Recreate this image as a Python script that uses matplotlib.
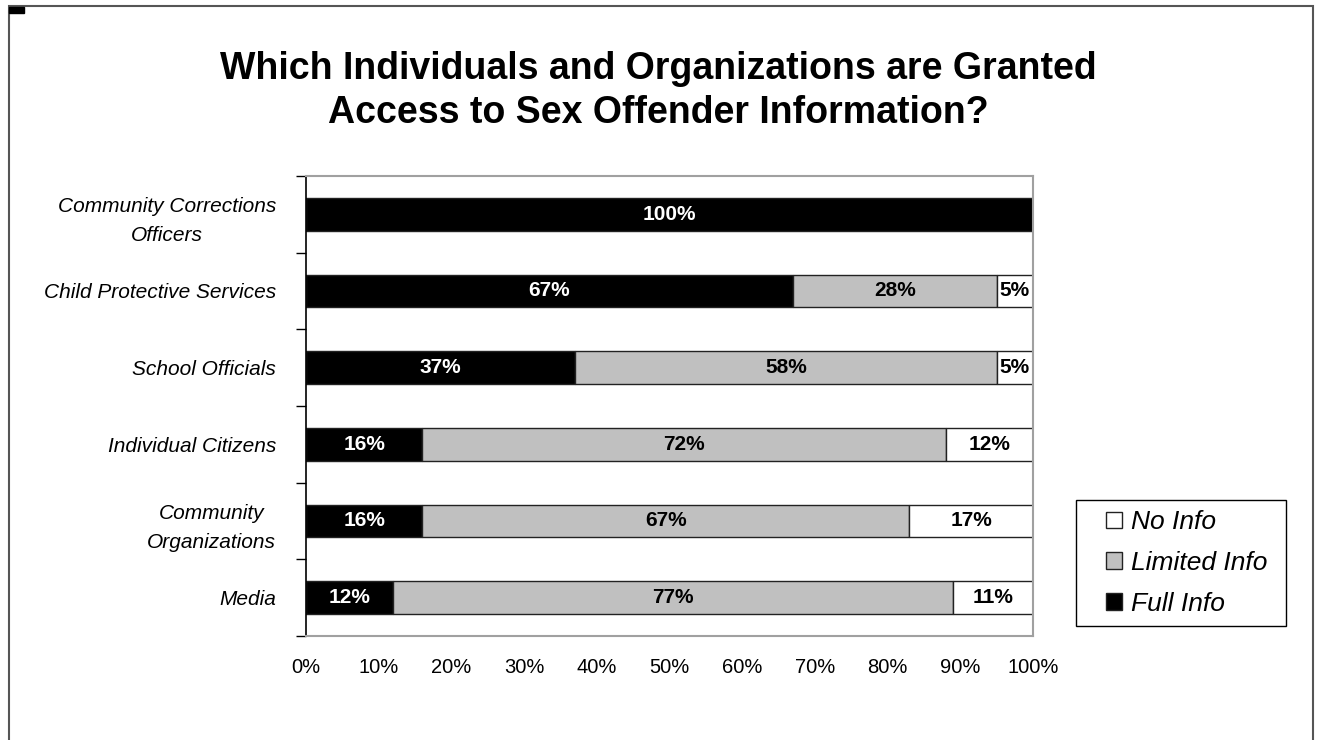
import numpy as np
import matplotlib.pyplot as plt
from matplotlib.patches import Rectangle

categories = ['Community Corrections\nOfficers', 'Child Protective Services', 'School Officials',
              'Individual Citizens', 'Community\nOrganizations', 'Media']
full_info = [100, 67, 37, 16, 16, 12]
limited_info = [0, 28, 58, 72, 67, 77]
no_info = [0, 5, 5, 12, 17, 11]
xticks = [0, 10, 20, 30, 40, 50, 60, 70, 80, 90, 100]

plt.rcParams['font.family'] = ['Liberation Sans', 'DejaVu Sans']

W, H = 1317, 740
fig = plt.figure(figsize=(W / 100, H / 100), dpi=100)
ax = fig.add_axes([306 / W, 1 - 636 / H, (1033 - 306) / W, (636 - 176) / H])

# outer frame of the chart
fig.patches.append(Rectangle((9 / W, -0.1), (1313 - 9) / W, 1.1 - 6 / H,
                             transform=fig.transFigure, fill=False, edgecolor='#555555', lw=1.5))
fig.patches.append(Rectangle((9 / W, 1 - 13 / H), 15 / W, 6 / H,
                             transform=fig.transFigure, color='black'))

y = np.arange(len(categories))
h = 0.43
full = np.array(full_info)
lim = np.array(limited_info)
no = np.array(no_info)
b1 = ax.barh(y, full, height=h, color='black', edgecolor='#222222', lw=1, label='Full Info')
b2 = ax.barh(y, lim, left=full, height=h, color='#c0c0c0', edgecolor='#222222', lw=1, label='Limited Info')
b3 = ax.barh(y, no, left=full + lim, height=h, color='white', edgecolor='#222222', lw=1, label='No Info')

lab = dict(ha='center', va='center', fontsize=15, fontweight='bold')
for i in range(len(categories)):
    if full[i] > 0:
        ax.text(full[i] / 2, y[i], f'{full[i]}%', color='white', **lab)
    if lim[i] > 0:
        ax.text(full[i] + lim[i] / 2, y[i], f'{lim[i]}%', color='black', **lab)
    if no[i] > 0:
        ax.text(full[i] + lim[i] + no[i] / 2, y[i], f'{no[i]}%', color='black', **lab)

ax.set_xlim(0, 100)
ax.set_ylim(len(categories) - 0.5, -0.5)
ax.set_yticks(y)
ax.set_yticklabels(categories, fontsize=15, style='italic', multialignment='center', linespacing=1.65)
ax.set_yticks(np.arange(-0.5, len(categories)), minor=True)
ax.tick_params(axis='y', which='major', length=0, pad=21.5)
ax.tick_params(axis='y', which='minor', length=7, direction='out', width=1)
ax.set_xticks(xticks)
ax.set_xticklabels([f'{t}%' for t in xticks], fontsize=14.5)
ax.tick_params(axis='x', length=0, pad=16)

for s in ['top', 'right', 'bottom']:
    ax.spines[s].set_color('#a0a0a0')
    ax.spines[s].set_linewidth(1.5)
ax.spines['left'].set_color('black')
ax.spines['left'].set_linewidth(1.2)

fig.text(0.5, 1 - 69 / H, 'Which Individuals and Organizations are Granted', ha='center', va='center',
         fontsize=27, fontweight='bold')
fig.text(0.5, 1 - 113 / H, 'Access to Sex Offender Information?', ha='center', va='center',
         fontsize=27, fontweight='bold')

# legend box drawn separately so its padding can match the original
fig.patches.append(Rectangle((1076 / W, 1 - 626 / H), (1286 - 1076) / W, 126 / H,
                             transform=fig.transFigure, fill=False, edgecolor='black', lw=1))
leg = fig.legend(handles=[b3, b2, b1], loc='center left',
                 bbox_to_anchor=(1106 / W, 1 - 563 / H), frameon=False,
                 prop={'size': 19, 'style': 'italic'},
                 handlelength=0.6, handleheight=0.6, handletextpad=0.35, borderpad=0,
                 labelspacing=0.63, borderaxespad=0)

fig.savefig('out.png', dpi=100)
